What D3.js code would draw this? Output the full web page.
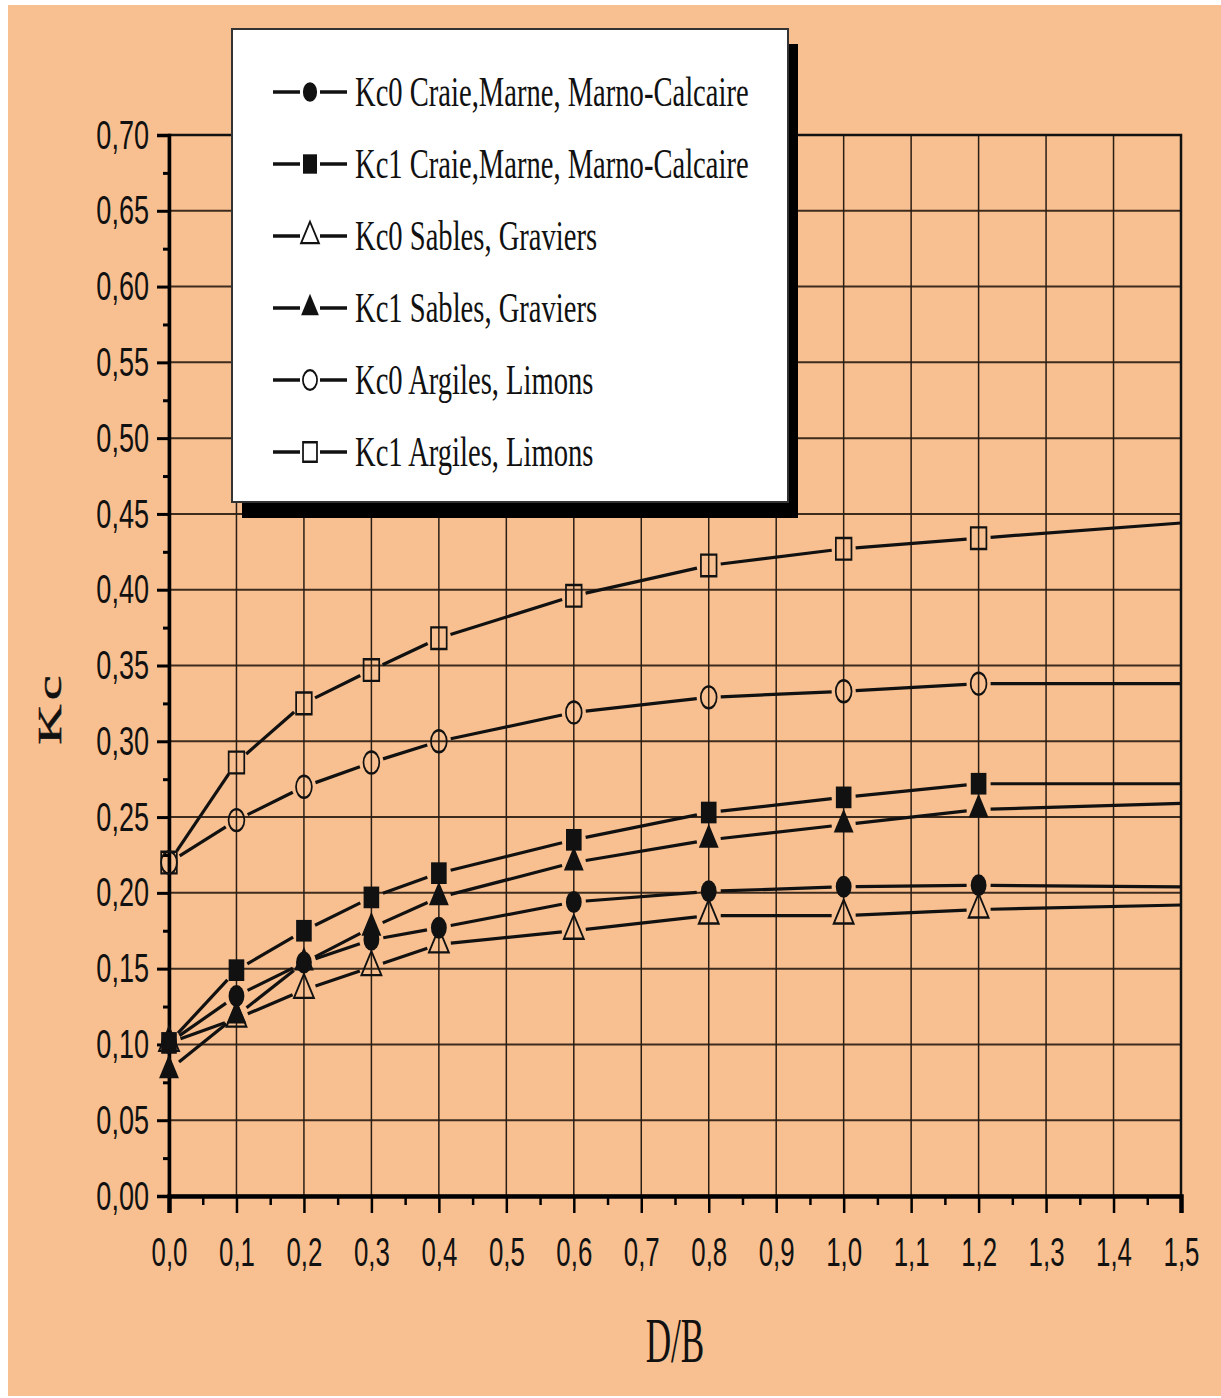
<!DOCTYPE html>
<html lang="fr">
<head>
<meta charset="UTF-8">
<title>Kc en fonction de D/B</title>
<script src="https://d3js.org/d3.v7.min.js"></script>
<style>
body { margin: 0; background: #ffffff; }
svg { display: block; }
</style>
</head>
<body>
<div id="chart"></div>
<script>

var dbValues = [0.0, 0.1, 0.2, 0.3, 0.4, 0.6, 0.8, 1.0, 1.2, 1.5];

var kc0Craie   = [0.101, 0.132, 0.154, 0.169, 0.177, 0.194, 0.201, 0.204, 0.205, 0.204];
var kc1Craie   = [0.101, 0.149, 0.175, 0.197, 0.213, 0.235, 0.253, 0.263, 0.272, 0.272];
var kc0Sables  = [0.101, 0.117, 0.136, 0.151, 0.166, 0.175, 0.185, 0.185, 0.189, 0.192];
var kc1Sables  = [0.083, 0.119, 0.154, 0.177, 0.197, 0.220, 0.235, 0.245, 0.255, 0.259];
var kc0Argiles = [0.220, 0.248, 0.270, 0.286, 0.300, 0.319, 0.329, 0.333, 0.338, 0.338];
var kc1Argiles = [0.220, 0.286, 0.325, 0.347, 0.368, 0.396, 0.416, 0.427, 0.434, 0.444];

var seriesLabels = [
	"Kc0 Craie,Marne, Marno-Calcaire",
	"Kc1 Craie,Marne, Marno-Calcaire",
	"Kc0 Sables, Graviers",
	"Kc1 Sables, Graviers",
	"Kc0 Argiles, Limons",
	"Kc1 Argiles, Limons"
];

var xTickValues = [0, 0.1, 0.2, 0.3, 0.4, 0.5, 0.6, 0.7, 0.8, 0.9, 1.0, 1.1, 1.2, 1.3, 1.4, 1.5];
var xTickLabels = ["0,0", "0,1", "0,2", "0,3", "0,4", "0,5", "0,6", "0,7", "0,8", "0,9", "1,0", "1,1", "1,2", "1,3", "1,4", "1,5"];
var yTickValues = [0, 0.05, 0.10, 0.15, 0.20, 0.25, 0.30, 0.35, 0.40, 0.45, 0.50, 0.55, 0.60, 0.65, 0.70];
var yTickLabels = ["0,00", "0,05", "0,10", "0,15", "0,20", "0,25", "0,30", "0,35", "0,40", "0,45", "0,50", "0,55", "0,60", "0,65", "0,70"];

var peach = "#f8c090";
var W = 1221, H = 1398;

var svg = d3.select("#chart").append("svg")
	.attr("width", W)
	.attr("height", H);

svg.append("rect")
	.attr("x", 8).attr("y", 5)
	.attr("width", 1213).attr("height", 1391)
	.attr("fill", peach);

var x = d3.scaleLinear().domain([0, 1.5]).range([169, 1181]);
var y = d3.scaleLinear().domain([0, 0.7]).range([1196, 135]);

// glyphs in the scan are squeezed sideways
var squeeze = 0.72;

// grille
svg.append("g").selectAll("line")
	.data(yTickValues)
	.join("line")
	.attr("x1", x(0)).attr("x2", x(1.5))
	.attr("y1", d => y(d)).attr("y2", d => y(d))
	.attr("stroke", "#3d2b1e")
	.attr("stroke-width", 2);

svg.append("g").selectAll("line")
	.data(xTickValues)
	.join("line")
	.attr("x1", d => x(d)).attr("x2", d => x(d))
	.attr("y1", y(0.7)).attr("y2", y(0))
	.attr("stroke", "#2a1d14")
	.attr("stroke-width", 1.5);

// cadre
svg.append("rect")
	.attr("x", x(0)).attr("y", y(0.7))
	.attr("width", x(1.5) - x(0)).attr("height", y(0) - y(0.7))
	.attr("fill", "none")
	.attr("stroke", "#111")
	.attr("stroke-width", 2.5);

// axes
var yMinor = d3.pairs(yTickValues).map(p => (p[0] + p[1]) / 2);
var xMinor = d3.pairs(xTickValues).map(p => (p[0] + p[1]) / 2);

var yAxis = svg.append("g")
	.attr("transform", "translate(" + x(0) + ",0)")
	.call(d3.axisLeft(y).tickValues(yTickValues).tickSize(12).tickPadding(8)
		.tickFormat((d, i) => yTickLabels[i]));
yAxis.select(".domain").attr("stroke-width", 3.5);
yAxis.selectAll(".tick line").attr("stroke-width", 3);
yAxis.selectAll("text")
	.attr("font-family", "Liberation Sans, Arial, sans-serif")
	.attr("font-size", 41)
	.attr("fill", "#111")
	.attr("transform", "scale(0.66,1)")
	.attr("x", -20 / 0.66);

svg.append("g")
	.attr("transform", "translate(" + x(0) + ",0)")
	.call(d3.axisLeft(y).tickValues(yMinor).tickSize(6).tickFormat(""))
	.call(g => g.select(".domain").remove())
	.selectAll(".tick line").attr("stroke-width", 3);

var xAxis = svg.append("g")
	.attr("transform", "translate(0," + y(0) + ")")
	.call(d3.axisBottom(x).tickValues(xTickValues).tickSize(17).tickPadding(24)
		.tickFormat((d, i) => xTickLabels[i]));
xAxis.select(".domain").attr("stroke-width", 4.5);
xAxis.selectAll(".tick line").attr("stroke-width", 2.5);
xAxis.selectAll("text")
	.attr("font-family", "Liberation Sans, Arial, sans-serif")
	.attr("font-size", 41)
	.attr("fill", "#111")
	.attr("transform", "scale(0.63,1)");

svg.append("g")
	.attr("transform", "translate(0," + y(0) + ")")
	.call(d3.axisBottom(x).tickValues(xMinor).tickSize(9).tickFormat(""))
	.call(g => g.select(".domain").remove())
	.selectAll(".tick line").attr("stroke-width", 2.5);

// titres d'axes
svg.append("g")
	.attr("transform", "translate(675,1362) scale(0.55,1)")
	.append("text")
	.attr("text-anchor", "middle")
	.attr("font-family", "Liberation Serif, Times New Roman, serif")
	.attr("font-size", 64)
	.attr("fill", "#111")
	.text("D/B");

svg.append("g")
	.attr("transform", "translate(61,708) rotate(-90) scale(1,0.62)")
	.append("text")
	.attr("text-anchor", "middle")
	.attr("font-family", "Liberation Serif, Times New Roman, serif")
	.attr("font-size", 56)
	.attr("letter-spacing", 4)
	.attr("stroke", "#111")
	.attr("stroke-width", 0.8)
	.attr("fill", "#111")
	.text("Kc");

// séries
var shapeSpecs = [
	{ type: d3.symbolCircle, size: 380, filled: true },
	{ type: d3.symbolSquare, size: 470, filled: true },
	{ type: d3.symbolTriangle, size: 330, filled: false },
	{ type: d3.symbolTriangle, size: 330, filled: true },
	{ type: d3.symbolCircle, size: 380, filled: false },
	{ type: d3.symbolSquare, size: 470, filled: false }
];
var seriesValues = [kc0Craie, kc1Craie, kc0Sables, kc1Sables, kc0Argiles, kc1Argiles];

var series = seriesValues.map((vals, k) => ({
	label: seriesLabels[k],
	shape: shapeSpecs[k],
	points: vals.map((v, i) => ({ x: dbValues[i], y: v, marker: i < dbValues.length - 1 }))
}));

// distance to leave free around a marker (ellipse 8 x 11 plus a small gap)
function gapAlong(dx, dy) {
	var a = 8, b = 11;
	var len = Math.hypot(dx, dy);
	var c = dx / len, s = dy / len;
	return a * b / Math.sqrt((b * c) * (b * c) + (a * s) * (a * s)) + 4;
}

var line = d3.line();

var segLayer = svg.append("g");
series.forEach(sr => {
	d3.pairs(sr.points).forEach(p => {
		var x1 = x(p[0].x), y1 = y(p[0].y), x2 = x(p[1].x), y2 = y(p[1].y);
		var dx = x2 - x1, dy = y2 - y1, len = Math.hypot(dx, dy);
		var g1 = p[0].marker ? gapAlong(dx, dy) : 0;
		var g2 = p[1].marker ? gapAlong(dx, dy) : 0;
		if (len <= g1 + g2) return;
		segLayer.append("path")
			.attr("d", line([
				[x1 + dx * g1 / len, y1 + dy * g1 / len],
				[x2 - dx * g2 / len, y2 - dy * g2 / len]
			]))
			.attr("fill", "none")
			.attr("stroke", "#111")
			.attr("stroke-width", 3.2);
	});
});

function drawMarker(g, shape, cx, cy, k) {
	g.append("path")
		.attr("d", d3.symbol().type(shape.type).size(shape.size * k)())
		.attr("transform", "translate(" + cx + "," + cy + ") scale(" + squeeze + ",1)")
		.attr("fill", shape.filled ? "#111" : "none")
		.attr("stroke", "#111")
		.attr("stroke-width", shape.filled ? 0 : 2.4);
}

var markLayer = svg.append("g");
series.forEach(sr => {
	sr.points.filter(d => d.marker).forEach(d => {
		drawMarker(markLayer, sr.shape, x(d.x), y(d.y), 1);
	});
});

// légende
var legend = svg.append("g");
legend.append("rect")
	.attr("x", 242).attr("y", 44)
	.attr("width", 556).attr("height", 474)
	.attr("fill", "#000");
legend.append("rect")
	.attr("x", 232).attr("y", 29)
	.attr("width", 556).attr("height", 473)
	.attr("fill", "#fff")
	.attr("stroke", "#333")
	.attr("stroke-width", 2);

series.forEach((sr, i) => {
	var cy = 92 + i * 72;
	var row = legend.append("g");
	row.append("line")
		.attr("x1", 273).attr("x2", 300)
		.attr("y1", cy).attr("y2", cy)
		.attr("stroke", "#111").attr("stroke-width", 3.5);
	row.append("line")
		.attr("x1", 320).attr("x2", 347)
		.attr("y1", cy).attr("y2", cy)
		.attr("stroke", "#111").attr("stroke-width", 3.5);
	drawMarker(row, sr.shape, 310, cy, 0.8);
	row.append("g")
		.attr("transform", "translate(355," + (cy + 14) + ") scale(0.665,1)")
		.append("text")
		.attr("font-family", "Liberation Serif, Times New Roman, serif")
		.attr("font-size", 43)
		.attr("fill", "#111")
		.text(sr.label);
});

</script>
</body>
</html>
